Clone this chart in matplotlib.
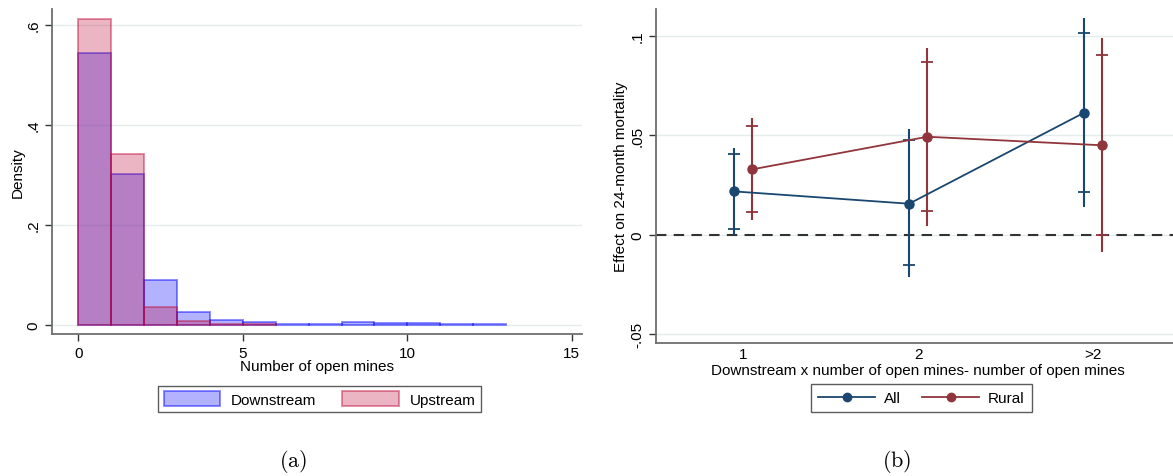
import numpy as np
import matplotlib
matplotlib.use("Agg")
import matplotlib.pyplot as plt
from matplotlib.patches import Patch
from matplotlib.lines import Line2D

plt.rcParams['font.family'] = ['Liberation Sans', 'DejaVu Sans']
plt.rcParams['mathtext.fontset'] = 'cm'

# (a) histogram of open mines, bins of width 1
bin_edges = np.arange(0, 14)
down_density = [0.544, 0.301, 0.090, 0.025, 0.010, 0.005, 0.002, 0.002,
                0.005, 0.004, 0.003, 0.002, 0.001]
up_density = [0.611, 0.341, 0.035, 0.008, 0.001, 0.002]

# (b) coefficients with 90% (ticks) and 95% (line) intervals
cats = ['1', '2', '>2']
all_b = [0.0218, 0.0156, 0.0614]
all_lo95 = [-0.0002, -0.0213, 0.0139]
all_hi95 = [0.0436, 0.0530, 0.1090]
all_lo90 = [0.0030, -0.0154, 0.0216]
all_hi90 = [0.0404, 0.0475, 0.1015]
rural_b = [0.0329, 0.0493, 0.0450]
rural_lo95 = [0.0072, 0.0045, -0.0087]
rural_hi95 = [0.0587, 0.0940, 0.0990]
rural_lo90 = [0.0112, 0.0117, 0.0000]
rural_hi90 = [0.0547, 0.0871, 0.0903]

blue = (0, 0, 1)
cran = (192/255, 12/255, 58/255)
navy = '#1a476f'
maroon = '#90353b'
grid_c = '#e4ecee'
spine_c = '#6e6e6e'
fs = 11

W, H = 1173, 477
fig = plt.figure(figsize=(W/100, H/100), dpi=100)

def style(ax):
    for s in ['top', 'right']:
        ax.spines[s].set_visible(False)
    for s in ['left', 'bottom']:
        ax.spines[s].set_color(spine_c)
        ax.spines[s].set_linewidth(1.3)
    ax.tick_params(direction='out', length=5, width=1, color='#333333',
                   labelsize=fs, labelcolor='black')
    ax.yaxis.grid(True, color=grid_c, lw=1)
    ax.set_axisbelow(True)
    for lab in ax.get_yticklabels():
        lab.set_rotation(90)
        lab.set_va('center')

# ---- panel (a)
ax1 = fig.add_axes([51.7/W, (H-335)/H, 530/W, 325/H])
lefts = bin_edges[:-1]
ax1.bar(lefts[:len(down_density)], down_density, width=1, align='edge',
        facecolor=blue + (0.3,), edgecolor=blue + (0.45,), lw=1.4)
ax1.bar(lefts[:len(up_density)], up_density, width=1, align='edge',
        facecolor=cran + (0.3,), edgecolor=cran + (0.45,), lw=1.4)
ax1.set_xlim(-0.81, 15.3)
ax1.set_ylim(-0.0186, 0.6315)
ax1.set_xticks([0, 5, 10, 15])
ax1.set_yticks([0, 0.2, 0.4, 0.6])
ax1.set_yticklabels(['0', '.2', '.4', '.6'])
style(ax1)
ax1.tick_params(axis='y', pad=3)
ax1.tick_params(axis='x', pad=4)
ax1.set_xlabel('Number of open mines', fontsize=fs, labelpad=-1)
ax1.set_ylabel('Density', fontsize=fs, labelpad=1)
leg1 = ax1.legend(handles=[Patch(facecolor=blue + (0.3,), edgecolor=blue + (0.45,), lw=1.4, label='Downstream'),
                           Patch(facecolor=cran + (0.3,), edgecolor=cran + (0.45,), lw=1.4, label='Upstream')],
                  loc='center', bbox_to_anchor=((319.5-51.7)/530, -(400-335)/325),
                  ncol=2, fontsize=fs, frameon=True, fancybox=False,
                  handlelength=3.7, handleheight=1.1, handletextpad=0.7,
                  columnspacing=1.7, borderpad=0.35)
leg1.get_frame().set_edgecolor('#333333')
leg1.get_frame().set_linewidth(1)

# ---- panel (b)
ax2 = fig.add_axes([655.7/W, (H-344)/H, 525/W, 334/H])
x = np.arange(1, len(cats) + 1)
off = 0.052
for xs, b, lo95, hi95, lo90, hi90, c in [
        (x - off, all_b, all_lo95, all_hi95, all_lo90, all_hi90, navy),
        (x + off, rural_b, rural_lo95, rural_hi95, rural_lo90, rural_hi90, maroon)]:
    ax2.vlines(xs, lo95, hi95, color=c, lw=1.5, zorder=3)
    ax2.plot(xs, lo90, ls='none', marker='_', ms=9, mew=1.3, color=c, zorder=3)
    ax2.plot(xs, hi90, ls='none', marker='_', ms=9, mew=1.3, color=c, zorder=3)
    ax2.plot(xs, b, color=c, lw=1.3, marker='o', ms=6.5, zorder=4)
ax2.axhline(0, color='#333333', lw=1.5, ls=(0, (5, 3.5)), zorder=2)
ax2.set_xlim(0.5, 3.5)
ax2.set_ylim(-0.0545, 0.1136)
ax2.set_xticks(x)
ax2.set_xticklabels(cats)
ax2.set_yticks([-0.05, 0, 0.05, 0.1])
ax2.set_yticklabels(['-.05', '0', '.05', '.1'])
style(ax2)
ax2.tick_params(axis='y', pad=3)
ax2.tick_params(axis='x', length=0, pad=3)
ax2.set_xlabel('Downstream x number of open mines- number of open mines',
               fontsize=fs, labelpad=1)
ax2.set_ylabel('Effect on 24-month mortality', fontsize=fs, labelpad=2)
leg2 = ax2.legend(handles=[Line2D([], [], color=navy, lw=1.3, marker='o', ms=6, label='All'),
                           Line2D([], [], color=maroon, lw=1.3, marker='o', ms=6, label='Rural')],
                  loc='center', bbox_to_anchor=((921.5-655.7)/525, -(399-344)/334),
                  ncol=2, fontsize=fs, frameon=True, fancybox=False,
                  handlelength=3.7, handletextpad=0.6, columnspacing=1.4,
                  borderpad=0.45)
leg2.get_frame().set_edgecolor('#333333')
leg2.get_frame().set_linewidth(1)

fig.text(293/W, 1 - 462/H, r'$\mathrm{(a)}$', fontsize=16, ha='center', va='center')
fig.text(897/W, 1 - 462/H, r'$\mathrm{(b)}$', fontsize=16, ha='center', va='center')

fig.savefig('out.png', dpi=100)
